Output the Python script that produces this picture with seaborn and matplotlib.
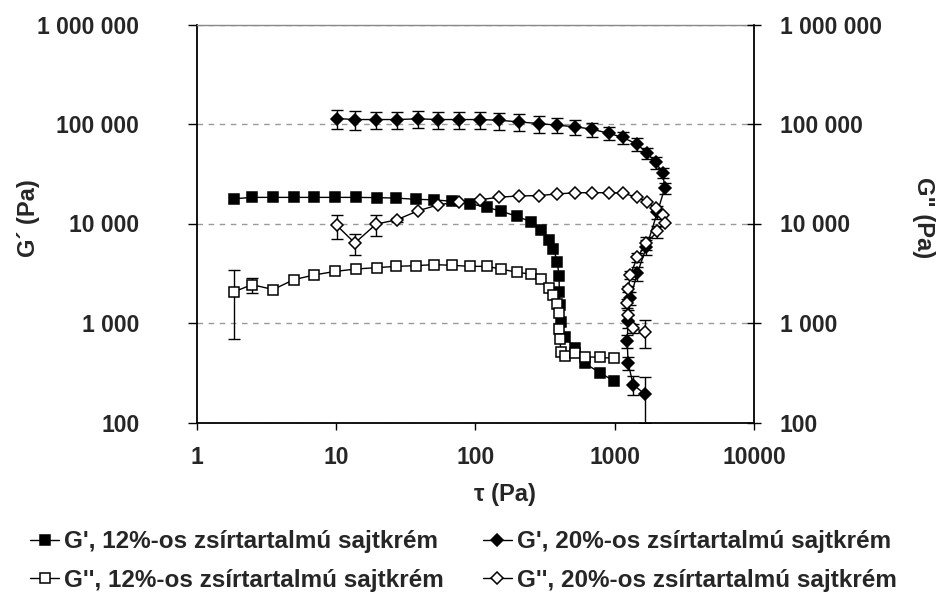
import numpy as np
import pandas as pd
import matplotlib
matplotlib.use("Agg")
import matplotlib.pyplot as plt
import seaborn as sns
from matplotlib.ticker import FixedLocator, FuncFormatter, NullLocator

# ── Adatok (leolvasva) ───────────────────────────────────────────────────────

# 12%-os zsírtartalmú sajtkrém
tau_12 = [1.83, 2.48, 3.52, 4.97, 6.96, 9.8, 13.9, 19.5, 27, 37.4, 50.3, 68,
          90.8, 120, 152, 199, 250, 293, 335, 363, 387, 398, 400, 404, 410,
          440, 517, 610, 782, 985]
g1_12 = [17700, 18300, 18300, 18300, 18300, 18300, 18300, 18200, 18000, 17500,
         17300, 16700, 15800, 14600, 13300, 11800, 10400, 8650, 6900, 5600,
         4100, 2970, 2060, 1520, 1030, 728, 557, 394, 316, 262]
g1_12_err = [0] * 30
g2_12 = [2050, 2430, 2170, 2730, 3040, 3300, 3490, 3600, 3710, 3770, 3860,
         3800, 3710, 3710, 3490, 3230, 3100, 2740, 2230, 1910, 1550, 1270, 865,
         686, 515, 466, 503, 458, 452, 441]
g2_12_err = [1360, 420, 0, 0, 0, 0, 0, 0, 0, 0, 0, 0, 0, 0, 0, 0, 0, 0, 0, 0,
             0, 0, 0, 0, 0, 0, 0, 0, 0, 0]

# 20%-os zsírtartalmú sajtkrém
tau_20 = [10.1, 13.6, 19.3, 27.2, 38.6, 54, 76.7, 107, 148, 205, 285, 386, 521,
          684, 914, 1142, 1437, 1700, 1963, 2217, 2284, 2024, 1690, 1450, 1295,
          1248, 1227, 1248, 1355, 1645]
g1_20 = [113500, 110900, 110900, 110900, 112700, 110900, 110900, 110900,
         109000, 105000, 101000, 97300, 93700, 88800, 80300, 73300, 62900,
         51400, 41100, 32400, 22600, 13000, 5800, 3150, 1780, 1050, 660, 396,
         240, 193]
g1_20_err = [24000, 23000, 22000, 22000, 22000, 22000, 22000, 22000, 21000,
             20000, 19000, 17000, 16000, 14000, 12000, 10000, 8800, 6500, 6000,
             3500, 2800, 2000, 1000, 500, 250, 150, 100, 60, 50, 95]
g2_20 = [9550, 6360, 9850, 10900, 13400, 15400, 16600, 17300, 18400, 18900,
         19100, 19800, 20400, 20400, 20400, 20200, 18400, 16600, 14200, 12200,
         10200, 8320, 6360, 4570, 3040, 2180, 1580, 1200, 885, 818]
g2_20_err = [2600, 1500, 2300, 500, 0, 0, 0, 0, 0, 0, 0, 0, 0, 0, 0, 0, 0, 0,
             0, 0, 0, 1200, 900, 500, 300, 150, 150, 150, 100, 260]

labels = ["G', 12%-os zsírtartalmú sajtkrém",
          "G'', 12%-os zsírtartalmú sajtkrém",
          "G', 20%-os zsírtartalmú sajtkrém",
          "G'', 20%-os zsírtartalmú sajtkrém"]

y_ticks = [100, 1000, 10000, 100000, 1000000]
x_ticks = [1, 10, 100, 1000, 10000]

# ── Stílus ───────────────────────────────────────────────────────────────────

sns.set_theme(style="white")
plt.rcParams["font.family"] = ["Liberation Sans", "DejaVu Sans"]
plt.rcParams["font.weight"] = "bold"

series = [
    (tau_12, g1_12, g1_12_err, labels[0], "s", 7.8, "black"),
    (tau_12, g2_12, g2_12_err, labels[1], "s", 7.8, "white"),
    (tau_20, g1_20, g1_20_err, labels[2], "D", 6.4, "black"),
    (tau_20, g2_20, g2_20_err, labels[3], "D", 6.4, "white"),
]

fig = plt.figure(figsize=(9.45, 5.98), dpi=100)
ax = fig.add_axes([197 / 945, 1 - 422.5 / 598, 557 / 945, 398 / 598])

for tau, g, err, lab, mk, ms, face in series:
    df = pd.DataFrame({"tau": tau, "G": g, "err": err})
    sns.lineplot(data=df, x="tau", y="G", sort=False, estimator=None,
                 color="black", lw=1, marker=mk, markersize=ms,
                 markerfacecolor=face, markeredgecolor="black",
                 markeredgewidth=1.1, label=lab, ax=ax, zorder=3)
    # hibasávok csak ott, ahol látszanak
    e = df[df["err"] > 0]
    ax.errorbar(e["tau"], e["G"], yerr=e["err"], fmt="none", ecolor="black",
                elinewidth=1, capsize=4, capthick=1, zorder=2)

fmt = FuncFormatter(lambda v, p: f"{int(round(v)):,}".replace(",", " "))

ax.set_xscale("log")
ax.set_yscale("log")
ax.set_xlim(1, 10000)
ax.set_ylim(100, 1000000)
ax.xaxis.set_major_locator(FixedLocator(x_ticks))
ax.xaxis.set_major_formatter(FuncFormatter(lambda v, p: f"{int(round(v))}"))
ax.xaxis.set_minor_locator(NullLocator())
ax.yaxis.set_major_locator(FixedLocator(y_ticks))
ax.yaxis.set_major_formatter(fmt)
ax.yaxis.set_minor_locator(NullLocator())

ax.yaxis.grid(True, ls=(0, (4, 4)), color="#999999", lw=1)
ax.xaxis.grid(False)

for side in ["left", "bottom", "right"]:
    ax.spines[side].set_color("black")
    ax.spines[side].set_linewidth(1.3)
ax.spines["top"].set_color("#888888")
ax.spines["top"].set_linewidth(1)

ax.tick_params(axis="y", which="major", left=True, direction="out", length=6.5,
               width=1, color="black", pad=35, labelsize=16.5)
ax.tick_params(axis="x", which="major", bottom=True, direction="out", length=5,
               width=1, color="black", pad=12, labelsize=16.5)

# jobb oldali tengely (G")
ax2 = ax.twinx()
ax2.set_yscale("log")
ax2.set_ylim(100, 1000000)
ax2.yaxis.set_major_locator(FixedLocator(y_ticks))
ax2.yaxis.set_major_formatter(fmt)
ax2.yaxis.set_minor_locator(NullLocator())
ax2.grid(False)
for sp in ax2.spines.values():
    sp.set_visible(False)
ax2.tick_params(axis="y", which="major", right=True, direction="inout",
                length=10, width=1, color="black", pad=13.5, labelsize=16.5)

ax.set_xlabel("τ (Pa)", fontsize=17, fontweight="bold", va="center")
ax.xaxis.set_label_coords(0.553, -0.18)
ax.set_ylabel("G´ (Pa)", fontsize=17, fontweight="bold", va="center")
ax.yaxis.set_label_coords(-0.303, 0.514)
ax2.set_ylabel('G" (Pa)', fontsize=17, fontweight="bold", rotation=270,
               va="center")
ax2.yaxis.set_label_coords(1.305, 0.514)

handles, labs = ax.get_legend_handles_labels()
ax.get_legend().remove()
fig.legend(handles, labs, ncol=2, loc="center left",
           bbox_to_anchor=(30 / 945, 1 - 561 / 598), frameon=False,
           fontsize=17.5, handlelength=1.2, handletextpad=0.2,
           columnspacing=1.6, labelspacing=0.62, borderpad=0,
           borderaxespad=0)

fig.savefig("out.png", dpi=100)
